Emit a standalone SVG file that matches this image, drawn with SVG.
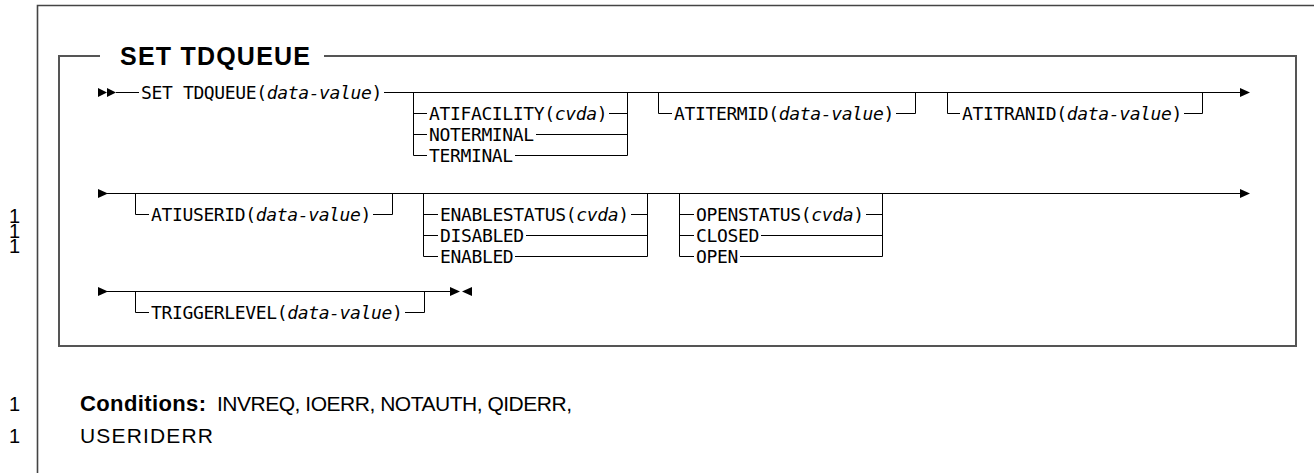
<svg xmlns="http://www.w3.org/2000/svg" width="1314" height="473" viewBox="0 0 1314 473">
<style>
.ln{fill:none;stroke:#000;stroke-width:1}
.frame{fill:none;stroke:#444;stroke-width:1.6}
.box{fill:none;stroke:#555;stroke-width:2}
.mono{font-family:"DejaVu Sans Mono","Liberation Mono",monospace;font-size:18px;letter-spacing:-0.36px;fill:#000}
.it{font-style:italic}
.sans{font-family:"Liberation Sans",Arial,sans-serif;fill:#000}
.ah{fill:#000}
</style>
<rect width="1314" height="473" fill="#fff"/>
<g id="frame">
<path class="frame" d="M37.5,473 V5.5 H1314"/>
<path class="box" d="M100,56 H59 V346 H1296 V56 H324"/>
<text class="sans" x="120" y="65" font-size="25" font-weight="bold" textLength="190">SET TDQUEUE</text>
</g>
<g id="connectors">
<polygon class="ah" points="98,88 107,92.5 98,97"/>
<polygon class="ah" points="107,88 116,92.5 107,97"/>
<path class="ln" d="M116,92.5 H139 M384,92.5 H1241"/>
<polygon class="ah" points="1240,88 1250,92.5 1240,97"/>
<polygon class="ah" points="98,189 108,193.5 98,198"/>
<path class="ln" d="M107,193.5 H1241"/>
<polygon class="ah" points="1240,189 1250,193.5 1240,198"/>
<polygon class="ah" points="98,287 108,291.5 98,296"/>
<path class="ln" d="M107,291.5 H451"/>
<polygon class="ah" points="450,287 460,291.5 450,296"/>
<polygon class="ah" points="472,287 462,291.5 472,296"/>
</g>
<g id="set-tdqueue">
<text class="mono" x="141" y="99">SET TDQUEUE(<tspan class="it">data-value</tspan>)</text>
</g>
<g id="atifacility">
<path class="ln" d="M413.5,92.5 V155.5 H427 M413.5,113.5 H427 M413.5,134.5 H427 M627.5,92.5 V155.5 H515 M627.5,134.5 H536 M627.5,113.5 H609"/>
<text class="mono" x="429" y="120">ATIFACILITY(<tspan class="it">cvda</tspan>)</text>
<text class="mono" x="429" y="141">NOTERMINAL</text>
<text class="mono" x="429" y="162">TERMINAL</text>
</g>
<g id="atitermid">
<path class="ln" d="M658.5,92.5 V113.5 H672 M896,113.5 H915.5 V92.5"/>
<text class="mono" x="674" y="120">ATITERMID(<tspan class="it">data-value</tspan>)</text>
</g>
<g id="atitranid">
<path class="ln" d="M947.5,92.5 V113.5 H960 M1184,113.5 H1202.5 V92.5"/>
<text class="mono" x="962" y="120">ATITRANID(<tspan class="it">data-value</tspan>)</text>
</g>
<g id="atiuserid">
<path class="ln" d="M135.5,193.5 V214.5 H149 M373,214.5 H392.5 V193.5"/>
<text class="mono" x="151" y="221">ATIUSERID(<tspan class="it">data-value</tspan>)</text>
</g>
<g id="enablestatus">
<path class="ln" d="M423.5,193.5 V256.5 H438 M423.5,214.5 H438 M423.5,235.5 H438 M647.5,193.5 V256.5 H515 M647.5,235.5 H526 M647.5,214.5 H631"/>
<text class="mono" x="440" y="221">ENABLESTATUS(<tspan class="it">cvda</tspan>)</text>
<text class="mono" x="440" y="242">DISABLED</text>
<text class="mono" x="440" y="263">ENABLED</text>
</g>
<g id="openstatus">
<path class="ln" d="M679.5,193.5 V256.5 H694 M679.5,214.5 H694 M679.5,235.5 H694 M882.5,193.5 V256.5 H740 M882.5,235.5 H761 M882.5,214.5 H866"/>
<text class="mono" x="696" y="221">OPENSTATUS(<tspan class="it">cvda</tspan>)</text>
<text class="mono" x="696" y="242">CLOSED</text>
<text class="mono" x="696" y="263">OPEN</text>
</g>
<g id="triggerlevel">
<path class="ln" d="M135.5,291.5 V312.5 H149 M405,312.5 H424.5 V291.5"/>
<text class="mono" x="151" y="319">TRIGGERLEVEL(<tspan class="it">data-value</tspan>)</text>
</g>
<g id="margin">
<text class="sans" x="9" y="223" font-size="20">1</text>
<text class="sans" x="9" y="238" font-size="20">1</text>
<text class="sans" x="9" y="253" font-size="20">1</text>
<text class="sans" x="9" y="411" font-size="20">1</text>
<text class="sans" x="9" y="443" font-size="20">1</text>
</g>
<g id="conditions">
<text class="sans" x="80" y="411" font-size="22" font-weight="bold" textLength="126">Conditions:</text>
<text class="sans" x="217" y="411" font-size="21" textLength="355">INVREQ, IOERR, NOTAUTH, QIDERR,</text>
<text class="sans" x="80" y="443" font-size="21" textLength="133">USERIDERR</text>
</g>
</svg>
